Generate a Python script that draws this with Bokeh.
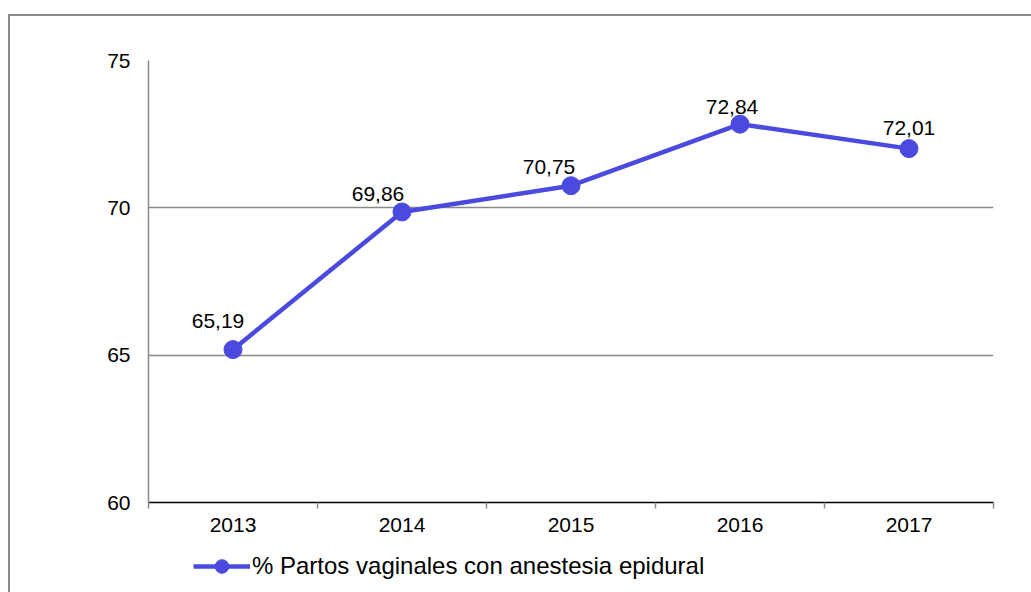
from bokeh.plotting import figure
from bokeh.layouts import column
from bokeh.models import FixedTicker, Legend, LegendItem, ColumnDataSource
from bokeh.core.properties import value
from bokeh.embed import file_html
from bokeh.resources import INLINE

# ---- data ----
years = ["2013", "2014", "2015", "2016", "2017"]
values = [65.19, 69.86, 70.75, 72.84, 72.01]
series_name = "% Partos vaginales con anestesia epidural"
y_ticks = [60, 65, 70, 75]

# label placement (style), pixels
label_dx = [-15, -24, -22, -8, 0]
label_dy = [-29, -18, -19, -17, -21]

COLOR = "#4a4ae0"
GRID = "#8a8a8a"
FONT = "Liberation Sans"

xs = [i + 0.5 for i in range(len(years))]
labels = [f"{v:.2f}".replace(".", ",") for v in values]
src = ColumnDataSource(dict(x=xs, y=values, lab=labels, dx=label_dx, dy=label_dy))

p = figure(width=1021, height=536, output_backend="svg", toolbar_location=None,
           x_range=(0, len(years)), y_range=(y_ticks[0], y_ticks[-1]),
           min_border_left=138, min_border_top=44, min_border_right=38,
           min_border_bottom=50)
p.outline_line_color = None
p.background_fill_color = "white"

# y axis
p.yaxis.ticker = FixedTicker(ticks=y_ticks)
p.yaxis.axis_line_color = GRID
p.yaxis.axis_line_width = 1.5
p.yaxis.major_tick_out = 0
p.yaxis.major_tick_in = 0
p.yaxis.minor_tick_line_color = None
p.yaxis.major_label_standoff = 18
p.yaxis.major_label_text_font = FONT
p.yaxis.major_label_text_font_size = "21px"
p.yaxis.major_label_text_color = "black"

p.ygrid.ticker = FixedTicker(ticks=y_ticks)
p.ygrid.grid_line_color = GRID
p.ygrid.grid_line_width = 1.5
p.xgrid.grid_line_color = None

# x axis: labels at band centers, tick marks at band boundaries
p.xaxis.ticker = FixedTicker(ticks=xs, minor_ticks=list(range(len(years) + 1)))
p.xaxis.major_label_overrides = {x: y for x, y in zip(xs, years)}
p.xaxis.axis_line_color = "black"
p.xaxis.axis_line_width = 1.5
p.xaxis.major_tick_out = 0
p.xaxis.major_tick_in = 0
p.xaxis.minor_tick_out = 6
p.xaxis.minor_tick_in = 0
p.xaxis.minor_tick_line_color = GRID
p.xaxis.minor_tick_line_width = 1.5
p.xaxis.major_label_standoff = 9
p.xaxis.major_label_text_font = FONT
p.xaxis.major_label_text_font_size = "21px"
p.xaxis.major_label_text_color = "black"

p.line("x", "y", source=src, line_color=COLOR, line_width=4.5)
p.scatter("x", "y", source=src, size=18, fill_color=COLOR, line_color=COLOR)

p.text("x", "y", text="lab", source=src, x_offset="dx", y_offset="dy",
       text_align="center", text_baseline="alphabetic",
       text_font=value(FONT), text_font_size="21px", text_color="black")

# legend strip below the chart (dummy renderers kept outside the visible range)
pl = figure(width=1021, height=40, output_backend="svg", toolbar_location=None,
            x_range=(0, 1), y_range=(0, 1), min_border=0)
pl.axis.visible = False
pl.grid.visible = False
pl.outline_line_color = None
dummy = ColumnDataSource(dict(x=[-5], y=[-5]))
l_ln = pl.line("x", "y", source=dummy, line_color=COLOR, line_width=4.5)
l_sc = pl.scatter("x", "y", source=dummy, size=13, fill_color=COLOR, line_color=COLOR)
legend = Legend(items=[LegendItem(label=series_name, renderers=[l_ln, l_sc], index=0)],
                location=(45, 9), padding=0, margin=0, spacing=0,
                glyph_width=57, glyph_height=34, label_standoff=2,
                label_text_font=FONT, label_text_font_size="24px",
                label_text_color="black", border_line_color=None,
                background_fill_alpha=0)
pl.add_layout(legend)

layout = column(p, pl, spacing=0,
                styles={"border-top": "2px solid #8a8a8a", "border-left": "2px solid #8a8a8a",
                        "margin-top": "14px", "margin-left": "8px"})

open("out.html", "w").write(file_html(layout, INLINE))
